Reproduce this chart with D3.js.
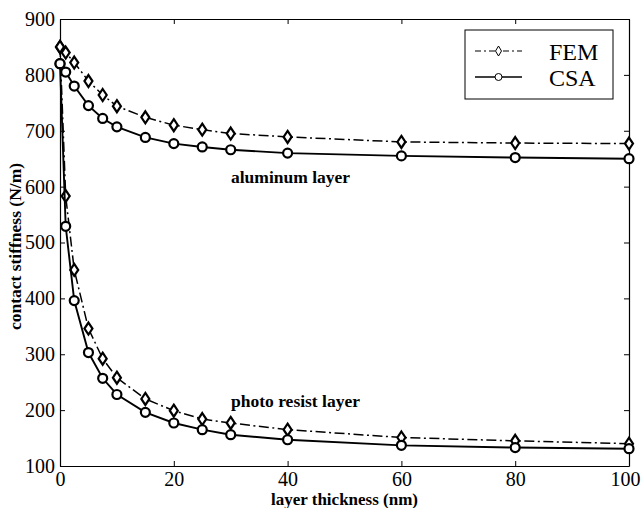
<!DOCTYPE html>
<html>
<head>
<meta charset="utf-8">
<script src="https://cdn.jsdelivr.net/npm/d3@7"></script>
<style>
    body { margin: 0; background: #fff; }
    svg { display: block; }
    text { font-family: "Liberation Serif", "Times New Roman", serif; fill: #000; }
</style>
</head>
<body>
<svg id="chart" width="642" height="508"></svg>
<script>
const thickness = [0, 1, 2.5, 5, 7.5, 10, 15, 20, 25, 30, 40, 60, 80, 100];
const femAluminum = [850, 840, 822, 789, 764, 744, 724, 710, 702, 695, 689, 680, 678, 677];
const csaAluminum = [820, 805, 780, 745, 722, 707, 688, 677, 671, 666, 660, 655, 652, 650];
const femResist = [850, 583, 451, 346, 292, 258, 220, 199, 184, 177, 165, 151, 145, 140];
const csaResist = [820, 529, 396, 303, 257, 228, 196, 177, 165, 156, 147, 137, 133, 131];

const xTicks = [0, 20, 40, 60, 80, 100];
const yTicks = [100, 200, 300, 400, 500, 600, 700, 800, 900];
const legendLabels = ["FEM", "CSA"];

const SERIF = '"Liberation Serif", "Times New Roman", serif';

class Chart {
    constructor(svg) {
        this.svg = svg;
        this.x = d3.scaleLinear().domain([0, 100]).range([60, 629]);
        this.y = d3.scaleLinear().domain([100, 900]).range([466, 19]);
        this.g = svg.append('g').attr('id', 'plot');
    }

    axes() {
        let x = this.x, y = this.y;
        let [x0, x1] = x.range();
        let [y0, y1] = y.range();

        // bottom / left with labels, top / right ticks only (matlab box)
        let bottom = this.g.append('g').attr('transform', `translate(0,${y0})`)
            .call(d3.axisBottom(x).tickValues(xTicks).tickSizeInner(-5).tickSizeOuter(0).tickPadding(6));
        let top = this.g.append('g').attr('transform', `translate(0,${y1})`)
            .call(d3.axisTop(x).tickValues(xTicks).tickSizeInner(-5).tickSizeOuter(0).tickFormat(''));
        let left = this.g.append('g').attr('transform', `translate(${x0},0)`)
            .call(d3.axisLeft(y).tickValues(yTicks).tickSizeInner(-5).tickSizeOuter(0).tickPadding(5));
        let right = this.g.append('g').attr('transform', `translate(${x1},0)`)
            .call(d3.axisRight(y).tickValues(yTicks).tickSizeInner(-5).tickSizeOuter(0).tickFormat(''));

        [bottom, top, left, right].forEach(a => {
            a.attr('font-family', SERIF);
            a.selectAll('path').attr('stroke', '#000').attr('stroke-width', 1.2);
            a.selectAll('line').attr('stroke', '#000').attr('stroke-width', 1);
            a.selectAll('text').style('font-size', '20px').style('font-family', SERIF).attr('fill', '#000');
        });
        // last label sits on the window edge
        bottom.selectAll('text').filter(d => d == 100).attr('dx', -4);

        this.g.append('text')
            .attr('x', (x0 + x1) / 2).attr('y', 505)
            .attr('text-anchor', 'middle')
            .style('font-size', '17px').style('font-weight', 'bold')
            .text('layer thickness (nm)');

        this.g.append('text')
            .attr('transform', `translate(21,${(y0 + y1) / 2 + 4}) rotate(-90)`)
            .attr('text-anchor', 'middle')
            .style('font-size', '17.5px').style('font-weight', 'bold')
            .text('contact stiffness (N/m)');
    }

    series(values, kind) {
        let obj = this;
        let pts = thickness.map((t, i) => [t, values[i]]);
        let line = d3.line().x(d => obj.x(d[0])).y(d => obj.y(d[1]));

        this.g.append('path')
            .attr('d', line(pts))
            .attr('fill', 'none')
            .attr('stroke', '#000')
            .attr('stroke-width', kind == 'fem' ? 1.5 : 1.9)
            .attr('stroke-dasharray', kind == 'fem' ? '10,3.5,2,3.5' : null);

        this._markers(pts.map(d => [obj.x(d[0]), obj.y(d[1])]), kind, 5);
    }

    _markers(pts, kind, r) {
        let sel = this.g.append('g').selectAll('.m').data(pts).enter();
        if (kind == 'fem') {
            sel.append('path')
                .attr('d', d => `M${d[0]},${d[1] - r - 1}L${d[0] + r - 1},${d[1]}L${d[0]},${d[1] + r + 1}L${d[0] - r + 1},${d[1]}Z`)
                .attr('fill', '#fff').attr('stroke', '#000').attr('stroke-width', 2.2);
        } else {
            sel.append('circle')
                .attr('cx', d => d[0]).attr('cy', d => d[1]).attr('r', r - 0.5)
                .attr('fill', '#fff').attr('stroke', '#000').attr('stroke-width', 2.2);
        }
    }

    legend() {
        let lg = this.g.append('g').attr('id', 'legend');
        lg.append('rect')
            .attr('x', 465).attr('y', 30).attr('width', 148).attr('height', 69)
            .attr('fill', '#fff').attr('stroke', '#000').attr('stroke-width', 1);

        let rows = [51, 77];
        legendLabels.forEach((name, i) => {
            let kind = i == 0 ? 'fem' : 'csa';
            lg.append('line')
                .attr('x1', 475).attr('x2', 522).attr('y1', rows[i]).attr('y2', rows[i])
                .attr('stroke', '#000')
                .attr('stroke-width', kind == 'fem' ? 1.2 : 1.6)
                .attr('stroke-dasharray', kind == 'fem' ? '6,3,2,3' : null);
            let sel = lg.append('g');
            let old = this.g;
            this.g = sel;
            this._markers([[498.5, rows[i]]], kind, 4);
            this.g = old;
            sel.selectAll('path,circle').attr('stroke-width', 1);
            lg.append('text')
                .attr('x', 549).attr('y', rows[i] + 9)
                .style('font-size', '24px')
                .text(name);
        });
    }

    notes() {
        this.g.append('text').attr('x', 231).attr('y', 183)
            .style('font-size', '17.5px').style('font-weight', 'bold')
            .text('aluminum layer');
        this.g.append('text').attr('x', 231).attr('y', 407)
            .style('font-size', '17.5px').style('font-weight', 'bold')
            .text('photo resist layer');
    }
}

let chart = new Chart(d3.select('#chart'));
chart.axes();
chart.series(femAluminum, 'fem');
chart.series(csaAluminum, 'csa');
chart.series(femResist, 'fem');
chart.series(csaResist, 'csa');
chart.notes();
chart.legend();
</script>
</body>
</html>
